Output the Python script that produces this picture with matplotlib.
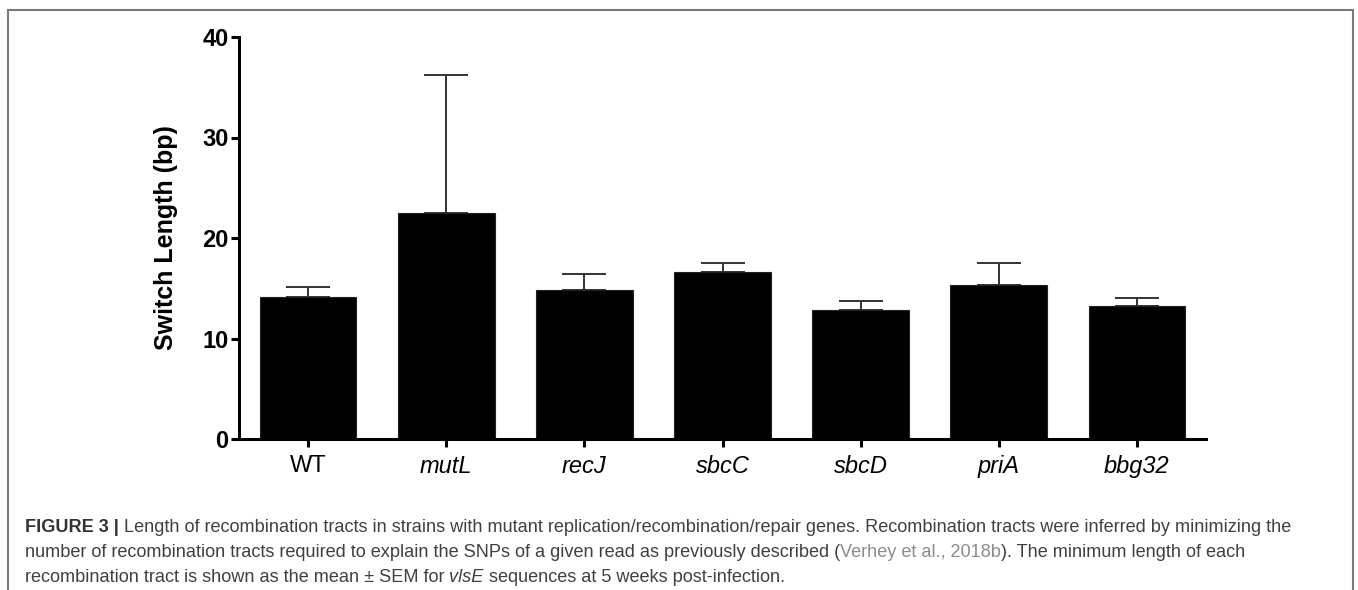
import matplotlib
matplotlib.use("Agg")
import matplotlib.pyplot as plt
from matplotlib.patches import Rectangle
import numpy as np

# ---- data ----
categories = ["WT", "mutL", "recJ", "sbcC", "sbcD", "priA", "bbg32"]
italic_flags = [False, True, True, True, True, True, True]
means = [14.1, 22.5, 14.8, 16.6, 12.8, 15.3, 13.2]
sem = [1.0, 13.7, 1.6, 0.9, 0.9, 2.2, 0.8]
yticks = [0, 10, 20, 30, 40]
ylabel = "Switch Length (bp)"

caption_lines = [
    [("FIGURE 3 |", "bold", "normal", "#333333"), (" ", None, None, None),
     ("Length of recombination tracts in strains with mutant replication/recombination/repair genes. "
      "Recombination tracts were inferred by minimizing the", "normal", "normal", "#404040")],
    [("number of recombination tracts required to explain the SNPs of a given read as previously described (",
      "normal", "normal", "#404040"),
     ("Verhey et al., 2018b", "normal", "normal", "#8c8c8c"),
     ("). The minimum length of each", "normal", "normal", "#404040")],
    [("recombination tract is shown as the mean \u00b1 SEM for", "normal", "normal", "#404040"),
     (" ", None, None, None),
     ("vlsE", "normal", "italic", "#404040"),
     (" ", None, None, None),
     ("sequences at 5 weeks post-infection.", "normal", "normal", "#404040")],
]

plt.rcParams["font.family"] = ["Liberation Sans", "DejaVu Sans"]

W, H = 1358, 590
fig = plt.figure(figsize=(W / 100, H / 100), dpi=100)

ax_left, ax_right = 239 / W, 1206 / W
ax_bottom, ax_top = 1 - 439 / H, 1 - 37 / H
ax = fig.add_axes([ax_left, ax_bottom, ax_right - ax_left, ax_top - ax_bottom])

x = np.arange(len(categories))
ax.errorbar(x, means, yerr=[np.zeros(len(sem)), sem], fmt="none",
            ecolor="#333333", elinewidth=1.4, capsize=16, capthick=1.4, zorder=1)
ax.bar(x, means, width=0.70, color="black", edgecolor="#222222", linewidth=0.8, zorder=2)

ax.set_xlim(-0.5, 6.5)
ax.set_ylim(0, 40)
ax.set_yticks(yticks)
ax.set_yticklabels([str(v) for v in yticks], fontsize=17, fontweight="bold")
ax.set_xticks(x)
ax.set_xticklabels(categories, fontsize=17)
for lab, it in zip(ax.get_xticklabels(), italic_flags):
    if it:
        lab.set_fontstyle("italic")

for side in ["top", "right"]:
    ax.spines[side].set_visible(False)
for side in ["left", "bottom"]:
    ax.spines[side].set_linewidth(2.2)
    ax.spines[side].set_color("black")
ax.tick_params(axis="y", length=6, width=2.2, pad=1.5, colors="black")
ax.tick_params(axis="x", length=5.5, width=2.2, pad=6, colors="black")

ax.set_ylabel(ylabel, fontsize=18, fontweight="bold")
ax.yaxis.set_label_coords((178 - 239) / (1206 - 239), 0.5)

# frame
frame = Rectangle((8 / W, -0.05), (1353 - 8) / W, 1 - 10 / H + 0.05,
                  transform=fig.transFigure, fill=False, edgecolor="#7a7a7a",
                  linewidth=1.5, clip_on=False)
fig.patches.append(frame)

# caption
renderer = fig.canvas.get_renderer()


def text_width(s, fs, weight="normal", style="normal"):
    t = fig.text(0, 0, s, fontsize=fs, fontweight=weight, fontstyle=style)
    w = t.get_window_extent(renderer).width
    t.remove()
    return w


base_fs = 12.0
target_w = 1293 - 25
w_total = 0.0
for seg in caption_lines[0]:
    s, wt, st, c = seg
    if wt is None:
        w_total += text_width("x x", base_fs) - text_width("xx", base_fs)
    else:
        w_total += text_width(s, base_fs, wt, st)
cap_fs = base_fs * target_w / w_total
space_w = text_width("x x", cap_fs) - text_width("xx", cap_fs)

baselines = [532, 557, 582]
for line, yb in zip(caption_lines, baselines):
    xp = 25.0
    for s, wt, st, c in line:
        if wt is None:
            xp += space_w
            continue
        t = fig.text(xp / W, 1 - yb / H, s, fontsize=cap_fs, fontweight=wt,
                     fontstyle=st, color=c, va="baseline", ha="left")
        xp += t.get_window_extent(renderer).width

fig.savefig("out.png", dpi=100)
